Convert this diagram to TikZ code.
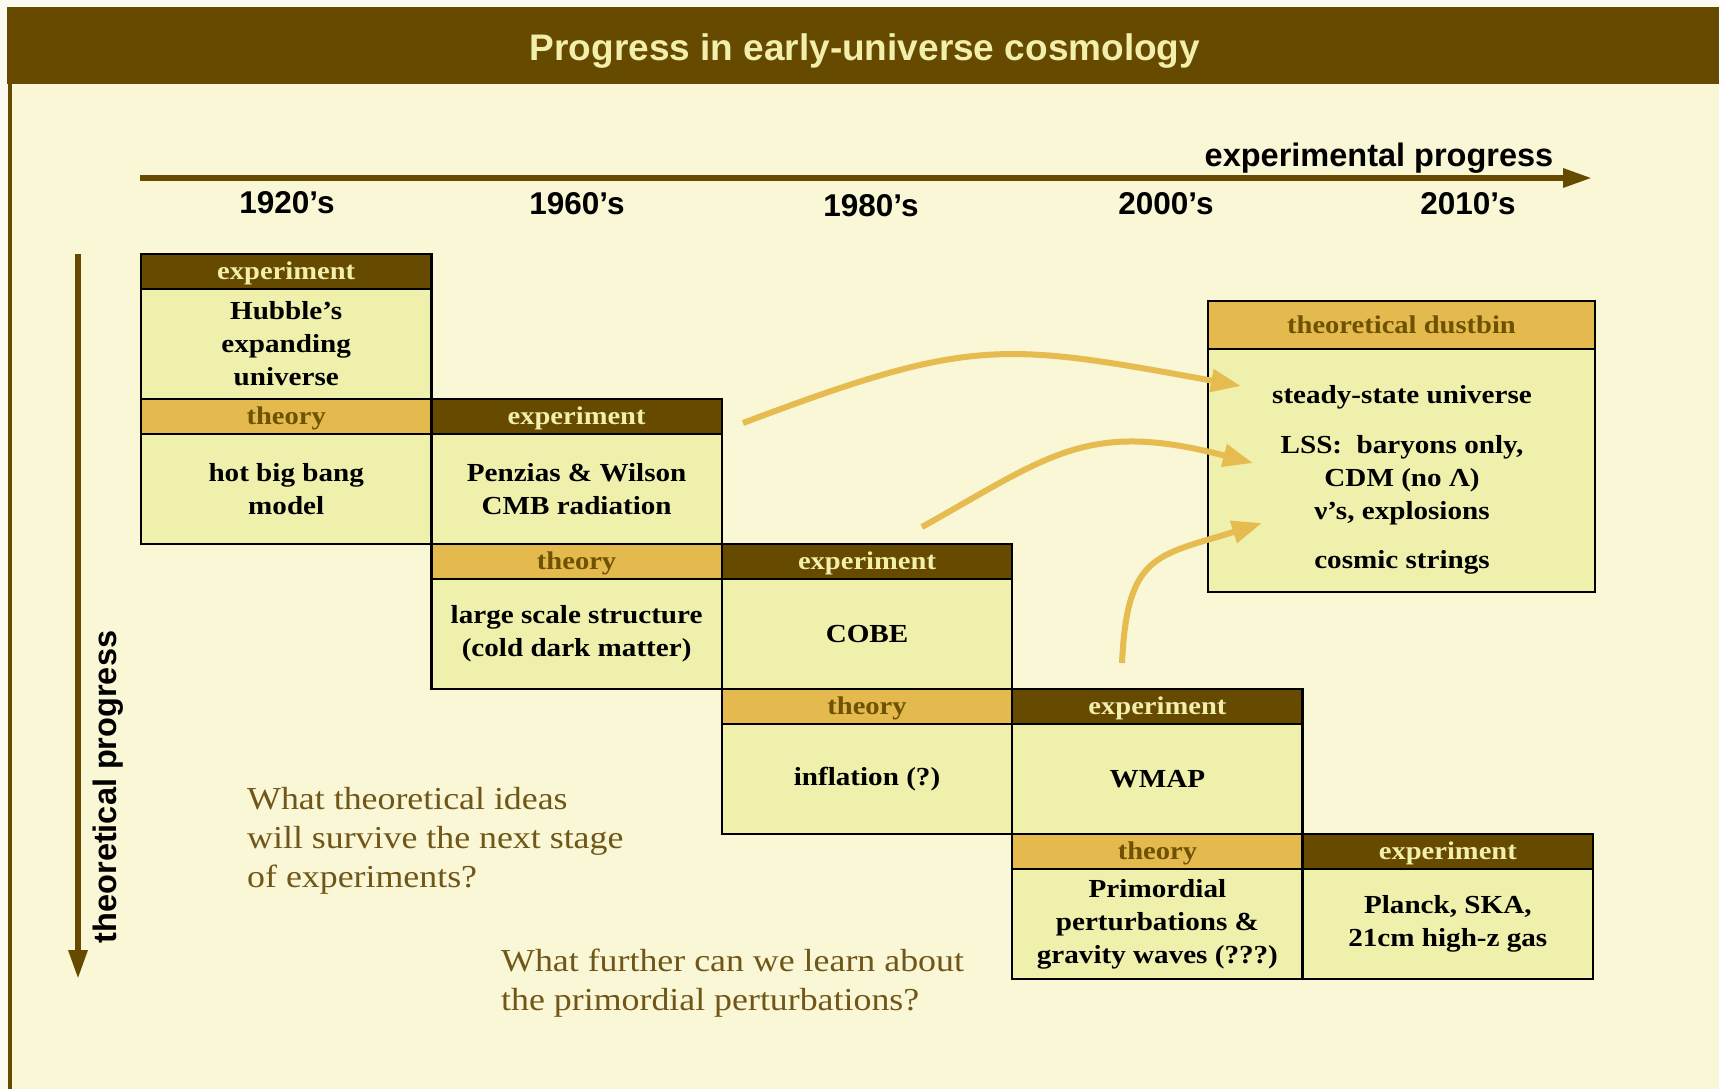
\documentclass[tikz,border=0pt]{standalone}
\usepackage{fontspec}
\setmainfont{Liberation Serif}
\newfontfamily\boxfont[FakeStretch=1.12]{Liberation Serif}
\newfontfamily\axisfont{Liberation Sans}
\definecolor{darkbrown}{RGB}{101, 74, 0}
\definecolor{goldhead}{RGB}{228, 186, 78}
\definecolor{cellyellow}{RGB}{238, 240, 172}
\definecolor{paper}{RGB}{249, 247, 214}
\definecolor{margin}{RGB}{251, 250, 240}
\definecolor{paleyellow}{RGB}{242, 238, 172}
\definecolor{headbrown}{RGB}{110, 82, 0}
\definecolor{askbrown}{RGB}{112, 86, 24}
\definecolor{arrowgold}{RGB}{230, 187, 80}
\usetikzlibrary{arrows.meta, positioning}
\tikzset{
  exphead/.style={rectangle, draw=black, fill=darkbrown, text=paleyellow, line width=2.5bp, minimum width=290.4bp, minimum height=35bp, inner sep=0pt, outer sep=0pt, text depth=1.5bp, font=\boxfont\bfseries\fontsize{25.5bp}{30bp}\selectfont},
  theohead/.style={exphead, fill=goldhead, text=headbrown},
  cellbox/.style={rectangle, draw=black, fill=cellyellow, line width=2.5bp, minimum width=290.4bp, minimum height=110bp, inner sep=0pt, outer sep=0pt, align=center, font=\boxfont\bfseries\fontsize{26bp}{33bp}\selectfont},
  yearlabel/.style={font=\axisfont\bfseries\fontsize{31.5bp}{36bp}\selectfont},
  question/.style={align=left, anchor=west, inner sep=0pt, text=askbrown, font=\boxfont\fontsize{32bp}{39bp}\selectfont},
  tobin/.style={arrowgold, line width=6bp, -{Triangle[length=30bp, width=22bp]}},
  progress/.style={darkbrown, line width=6bp, -{Triangle[length=29bp, width=18bp]}},
}

\begin{document}
\begin{tikzpicture}[x=1bp, y=-1bp]
\useasboundingbox (0,0) rectangle (1719,1089);
% page, title bar
\fill[margin] (0,0) rectangle (1719,1089);
\fill[paper] (12,84) rectangle (1719,1089);
\fill[darkbrown] (7,7) rectangle (1719,84);
\fill[darkbrown] (8,84) rectangle (12,1089);
\node[font=\axisfont\bfseries\fontsize{37bp}{40bp}\selectfont, text=paleyellow] (title) at (865,51) {Progress in early-universe cosmology};

% progress axes
\coordinate (xstart) at (140,178);
\coordinate (xend) at (1592,178);
\coordinate (ystart) at (78,254);
\coordinate (yend) at (78,979);
\draw[progress] (xstart) -- (xend);
\draw[progress] (ystart) -- (yend);
\node[yearlabel, font=\axisfont\bfseries\fontsize{32.5bp}{36bp}\selectfont] (xlabel) at (1379,158) {experimental progress};
\node[yearlabel, rotate=90, font=\axisfont\bfseries\fontsize{32.5bp}{36bp}\selectfont] (ylabel) at (108,787) {theoretical progress};
\node[yearlabel] (y1920) at (287,203) {1920’s};
\node[yearlabel] (y1960) at (577,204) {1960’s};
\node[yearlabel] (y1980) at (871,206) {1980’s};
\node[yearlabel] (y2000) at (1166,204) {2000’s};
\node[yearlabel] (y2010) at (1468,204) {2010’s};

% staircase of boxes
\node[exphead, anchor=north west] (exp1) at (141,254) {experiment};
\node[cellbox, below=0pt of exp1] (hubble) {Hubble’s\\expanding\\universe};
\node[theohead, below=0pt of hubble] (theo1) {theory};
\node[cellbox, below=0pt of theo1] (bigbang) {hot big bang\\model};
\node[exphead, right=0pt of theo1] (exp2) {experiment};
\node[cellbox, below=0pt of exp2] (cmb) {Penzias \& Wilson\\CMB radiation};
\node[theohead, below=0pt of cmb] (theo2) {theory};
\node[cellbox, below=0pt of theo2] (lss) {large scale structure\\(cold dark matter)};
\node[exphead, right=0pt of theo2] (exp3) {experiment};
\node[cellbox, below=0pt of exp3] (cobe) {COBE};
\node[theohead, below=0pt of cobe] (theo3) {theory};
\node[cellbox, below=0pt of theo3] (inflation) {inflation (?)};
\node[exphead, right=0pt of theo3] (exp4) {experiment};
\node[cellbox, below=0pt of exp4] (wmap) {WMAP};
\node[theohead, below=0pt of wmap] (theo4) {theory};
\node[cellbox, below=0pt of theo4] (primordial) {Primordial\\perturbations \&\\gravity waves (???)};
\node[exphead, right=0pt of theo4] (exp5) {experiment};
\node[cellbox, below=0pt of exp5] (planck) {Planck, SKA,\\21cm high-z gas};

% dustbin
\node[theohead, anchor=north west, minimum width=387bp, minimum height=48bp] (binhead) at (1208,301) {theoretical dustbin};
\node[cellbox, below=0pt of binhead, minimum width=387bp, minimum height=243bp] (bin) {};
\node[align=center, font=\boxfont\bfseries\fontsize{26bp}{33bp}\selectfont] (binlist) at (1402,480) {steady-state universe\\[17bp]LSS:~ baryons only,\\CDM (no Λ)\\ν’s, explosions\\[16bp]cosmic strings};

% arrows into the dustbin
\coordinate (from1) at (743,423);
\coordinate (to1) at (1241,386);
\coordinate (from2) at (922,527);
\coordinate (to2) at (1253,463);
\coordinate (from3) at (1122,663);
\coordinate (to3) at (1262,523);
\draw[tobin] (from1) .. controls (971,337) and (1001,342) .. (to1);
\draw[tobin] (from2) .. controls (1052,454) and (1088,420) .. (to2);
\draw[tobin] (from3) .. controls (1127,553) and (1157,556) .. (to3);

% questions
\node[question] (ask1) at (247,841) {What theoretical ideas\\will survive the next stage\\of experiments?};
\node[question] (ask2) at (501,983) {What further can we learn about\\the primordial perturbations?};
\end{tikzpicture}
\end{document}
